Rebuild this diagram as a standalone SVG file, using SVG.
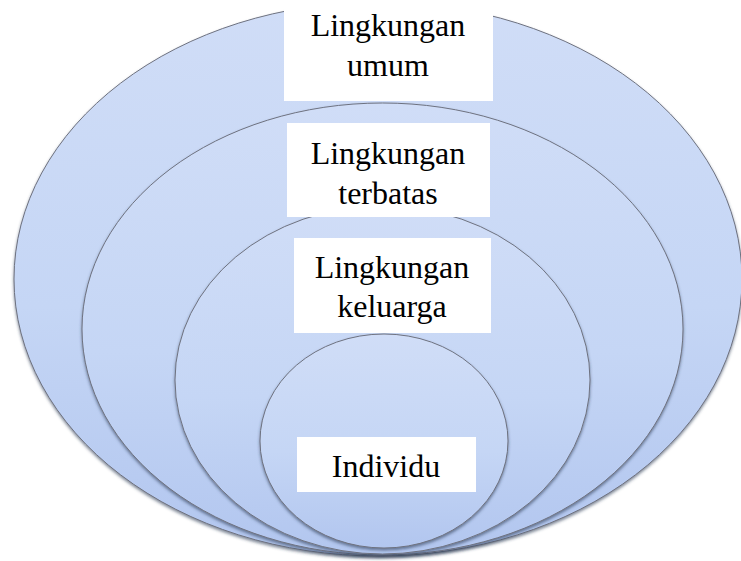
<svg xmlns="http://www.w3.org/2000/svg" width="741" height="561" viewBox="0 0 741 561">
<defs>
<linearGradient id="fill" x1="0" y1="0" x2="0" y2="1">
<stop offset="0" stop-color="#d0ddf7"/>
<stop offset="0.55" stop-color="#c5d6f5"/>
<stop offset="1" stop-color="#b2c6ef"/>
</linearGradient>
<filter id="shadow" x="-10%" y="-10%" width="120%" height="125%">
<feDropShadow dx="0" dy="2" stdDeviation="1.5" flood-color="#2c3a55" flood-opacity="0.6"/>
</filter>
</defs>
<style>
.ring{fill:url(#fill);stroke:#6e7280;stroke-width:1;filter:url(#shadow);}
.box{fill:#ffffff;}
.lbl{font-size:32px;fill:#000000;text-anchor:middle;}
</style>
<rect x="0" y="0" width="741" height="561" fill="#ffffff"/>
<g id="connectors"></g>
<g id="lingkungan-umum">
<ellipse class="ring" cx="378" cy="279" rx="364" ry="277"/>
</g>
<g id="lingkungan-terbatas">
<ellipse class="ring" cx="382.5" cy="329" rx="300.5" ry="226"/>
</g>
<g id="lingkungan-keluarga">
<ellipse class="ring" cx="382.5" cy="380" rx="207.5" ry="174"/>
</g>
<g id="individu">
<ellipse class="ring" cx="384" cy="441" rx="124" ry="107"/>
</g>
<g id="label-umum" font-family="'Liberation Serif', 'Times New Roman', 'DejaVu Serif', serif">
<rect class="box" x="284" y="0" width="209" height="101"/>
<text class="lbl" x="388" y="36">Lingkungan</text>
<text class="lbl" x="388" y="76">umum</text>
</g>
<g id="label-terbatas" font-family="'Liberation Serif', 'Times New Roman', 'DejaVu Serif', serif">
<rect class="box" x="287" y="123" width="203" height="94"/>
<text class="lbl" x="388" y="164">Lingkungan</text>
<text class="lbl" x="388" y="204">terbatas</text>
</g>
<g id="label-keluarga" font-family="'Liberation Serif', 'Times New Roman', 'DejaVu Serif', serif">
<rect class="box" x="294" y="238" width="197" height="95"/>
<text class="lbl" x="392" y="278">Lingkungan</text>
<text class="lbl" x="392" y="317">keluarga</text>
</g>
<g id="label-individu" font-family="'Liberation Serif', 'Times New Roman', 'DejaVu Serif', serif">
<rect class="box" x="297" y="437" width="179" height="55"/>
<text class="lbl" x="386" y="477">Individu</text>
</g>
</svg>
